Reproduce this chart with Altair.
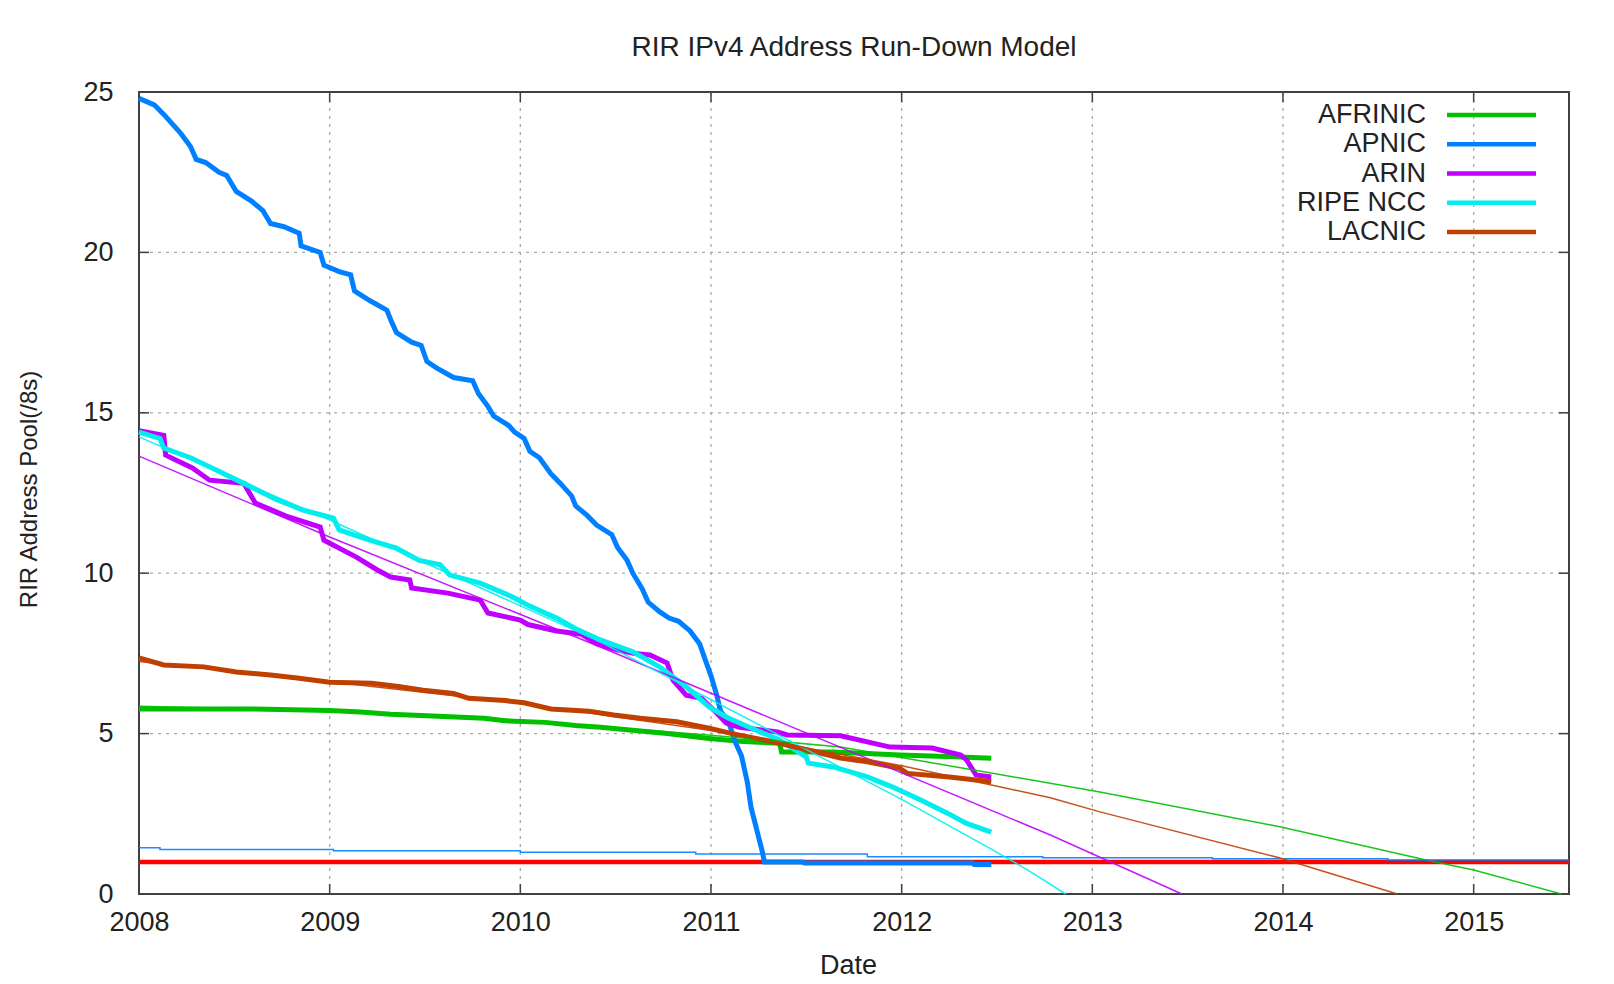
import altair as alt
import pandas as pd

# ---------------- data ----------------
SERIES = ["AFRINIC", "APNIC", "ARIN", "RIPE NCC", "LACNIC"]
COLORS = ["#00c000", "#0080ff", "#c000ff", "#00eeee", "#c04000"]

# Observed pools (thick lines)
afrinic_x = [2008.0, 2008.57, 2009.0, 2009.16, 2009.32, 2009.54, 2009.81, 2009.92, 2010.13, 2010.29,
             2010.42, 2010.77, 2010.99, 2011.17, 2011.36, 2011.37, 2011.64, 2011.99, 2012.31, 2012.47]
afrinic_y = [5.77, 5.77, 5.72, 5.67, 5.6, 5.55, 5.48, 5.4, 5.35, 5.25,
             5.2, 5.0, 4.85, 4.75, 4.7, 4.43, 4.43, 4.33, 4.27, 4.23]

apnic_x = [2008.0, 2008.08, 2008.13, 2008.22, 2008.27, 2008.30, 2008.35, 2008.42, 2008.46, 2008.51,
           2008.59, 2008.65, 2008.69, 2008.76, 2008.84, 2008.85, 2008.95, 2008.97, 2009.05, 2009.11,
           2009.13, 2009.21, 2009.30, 2009.32, 2009.35, 2009.43, 2009.48, 2009.51, 2009.56, 2009.65,
           2009.75, 2009.78, 2009.83, 2009.86, 2009.94, 2009.97, 2010.02, 2010.05, 2010.10, 2010.16,
           2010.21, 2010.27, 2010.29, 2010.35, 2010.40, 2010.48, 2010.51, 2010.56, 2010.59, 2010.64,
           2010.67, 2010.73, 2010.78, 2010.83, 2010.89, 2010.94, 2010.97, 2011.00, 2011.03, 2011.05,
           2011.09, 2011.13, 2011.16, 2011.19, 2011.21, 2011.24, 2011.27, 2011.28, 2011.48, 2011.49,
           2012.37, 2012.38, 2012.47]
apnic_y = [24.8, 24.6, 24.3, 23.7, 23.3, 22.9, 22.8, 22.5, 22.4, 21.9,
           21.6, 21.3, 20.9, 20.8, 20.6, 20.2, 20.0, 19.6, 19.4, 19.3,
           18.8, 18.5, 18.2, 17.9, 17.5, 17.2, 17.1, 16.6, 16.4, 16.1,
           16.0, 15.6, 15.2, 14.9, 14.6, 14.4, 14.2, 13.8, 13.6, 13.1,
           12.8, 12.4, 12.1, 11.8, 11.5, 11.2, 10.8, 10.4, 10.0, 9.5,
           9.1, 8.8, 8.6, 8.5, 8.2, 7.8, 7.3, 6.8, 6.2, 5.7,
           5.4, 4.7, 4.3, 3.5, 2.7, 2.0, 1.3, 1.0, 1.0, 0.97,
           0.97, 0.92, 0.92]

arin_x = [2008.0, 2008.13, 2008.14, 2008.28, 2008.37, 2008.55, 2008.61, 2008.78, 2008.95, 2008.97,
          2009.14, 2009.25, 2009.32, 2009.42, 2009.43, 2009.62, 2009.79, 2009.83, 2010.0, 2010.04,
          2010.19, 2010.32, 2010.40, 2010.51, 2010.60, 2010.68, 2010.77, 2010.80, 2010.87, 2010.95,
          2011.03, 2011.08, 2011.15, 2011.35, 2011.40, 2011.68, 2011.94, 2012.16, 2012.31, 2012.34,
          2012.39, 2012.47]
arin_y = [14.44, 14.3, 13.68, 13.28, 12.9, 12.8, 12.19, 11.76, 11.44, 11.03,
          10.5, 10.1, 9.88, 9.79, 9.54, 9.38, 9.16, 8.76, 8.54, 8.4,
          8.2, 8.1, 7.8, 7.6, 7.5, 7.45, 7.2, 6.67, 6.2, 6.1,
          5.64, 5.33, 5.2, 5.05, 4.96, 4.93, 4.58, 4.55, 4.33, 4.18,
          3.71, 3.65]

ripe_x = [2008.0, 2008.11, 2008.13, 2008.27, 2008.41, 2008.55, 2008.72, 2008.86, 2009.02, 2009.05,
          2009.21, 2009.35, 2009.47, 2009.58, 2009.63, 2009.79, 2009.96, 2010.04, 2010.19, 2010.29,
          2010.42, 2010.59, 2010.73, 2010.87, 2010.99, 2011.08, 2011.20, 2011.36, 2011.50, 2011.51,
          2011.64, 2011.82, 2011.95, 2012.10, 2012.24, 2012.34, 2012.47]
ripe_y = [14.4, 14.2, 13.9, 13.6, 13.2, 12.8, 12.3, 11.97, 11.72, 11.35,
          11.03, 10.78, 10.4, 10.26, 9.94, 9.69, 9.26, 9.0, 8.6, 8.27,
          7.92, 7.55, 7.08, 6.46, 5.83, 5.52, 5.2, 4.8, 4.27, 4.08,
          3.96, 3.65, 3.34, 2.93, 2.52, 2.2, 1.93]

lacnic_x = [2008.0, 2008.13, 2008.34, 2008.51, 2008.69, 2008.83, 2009.0, 2009.22, 2009.36, 2009.49,
            2009.65, 2009.73, 2009.92, 2010.02, 2010.16, 2010.36, 2010.49, 2010.63, 2010.82, 2010.99,
            2011.11, 2011.36, 2011.68, 2011.82, 2011.99, 2012.03, 2012.25, 2012.47]
lacnic_y = [7.36, 7.14, 7.08, 6.92, 6.83, 6.73, 6.6, 6.57, 6.47, 6.35,
            6.25, 6.1, 6.03, 5.96, 5.77, 5.7, 5.58, 5.48, 5.37, 5.17,
            5.0, 4.7, 4.24, 4.12, 3.92, 3.76, 3.65, 3.5]

# Model projections (thin lines)
afrinic_m_x = [2008.0, 2009.0, 2010.0, 2011.0, 2011.68, 2012.47, 2013.04, 2013.99, 2014.75, 2015.0, 2015.46]
afrinic_m_y = [5.85, 5.72, 5.42, 4.95, 4.58, 3.77, 3.18, 2.09, 1.06, 0.75, 0.0]

apnic_m_x = [2008.0, 2008.11, 2008.11, 2009.02, 2009.02, 2010.0, 2010.0, 2010.92, 2010.92, 2011.82,
             2011.82, 2012.74, 2012.74, 2013.63, 2013.63, 2014.55, 2014.55, 2015.5]
apnic_m_y = [1.44, 1.44, 1.39, 1.39, 1.35, 1.35, 1.30, 1.30, 1.25, 1.25,
             1.16, 1.16, 1.13, 1.13, 1.10, 1.10, 1.06, 1.06]

arin_m_x = [2008.0, 2009.0, 2010.42, 2012.78, 2013.47]
arin_m_y = [13.65, 11.13, 7.7, 1.84, 0.0]

ripe_m_x = [2008.0, 2009.0, 2010.42, 2012.0, 2012.47, 2012.66, 2012.86]
ripe_m_y = [14.25, 11.66, 7.86, 2.95, 1.4, 0.75, 0.0]

lacnic_m_x = [2008.0, 2009.0, 2010.0, 2011.0, 2012.0, 2012.47, 2012.78, 2013.04, 2013.98, 2014.6]
lacnic_m_y = [7.25, 6.62, 5.95, 5.1, 4.0, 3.4, 3.0, 2.56, 1.13, 0.0]

# Final /8 reserve level
reserve_x = [2008.0, 2015.5]
reserve_y = [1.0, 1.0]

x_ticks = [2008, 2009, 2010, 2011, 2012, 2013, 2014, 2015]
y_ticks = [0, 5, 10, 15, 20, 25]
x_grid = [2009, 2010, 2011, 2012, 2013, 2014, 2015]
y_grid = [5, 10, 15, 20]

# ---------------- tables ----------------
def long(pairs):
    rows = []
    for name, xs, ys in pairs:
        for i, (a, b) in enumerate(zip(xs, ys)):
            rows.append({"series": name, "x": a, "y": b, "idx": i})
    return pd.DataFrame(rows)

obs = long([("AFRINIC", afrinic_x, afrinic_y), ("APNIC", apnic_x, apnic_y),
            ("ARIN", arin_x, arin_y), ("RIPE NCC", ripe_x, ripe_y),
            ("LACNIC", lacnic_x, lacnic_y)])
mod = long([("AFRINIC", afrinic_m_x, afrinic_m_y), ("APNIC", apnic_m_x, apnic_m_y),
            ("ARIN", arin_m_x, arin_m_y), ("RIPE NCC", ripe_m_x, ripe_m_y),
            ("LACNIC", lacnic_m_x, lacnic_m_y)])
res = pd.DataFrame({"x": reserve_x, "y": reserve_y})
xg = pd.DataFrame({"x": x_grid})
yg = pd.DataFrame({"y": y_grid})
leg = pd.DataFrame({"series": SERIES})

W, H = 1430, 802
FONT = "Liberation Sans"

x_axis = alt.Axis(values=x_ticks, format="d", title="Date", labelPadding=15,
                  titleX=709, titleY=71, titleBaseline="middle", titleAlign="center")
y_axis = alt.Axis(values=y_ticks, title="RIR Address Pool(/8s)", labelPadding=26,
                  titleX=-110, titleY=397, titleAngle=-90, titleBaseline="middle",
                  titleAlign="center", titleFont=FONT, titleFontSize=24)
xs = alt.Scale(domain=[2008, 2015.5], nice=False, zero=False)
ys = alt.Scale(domain=[0, 25], nice=False)
cs = alt.Scale(domain=SERIES, range=COLORS)

X = alt.X("x:Q", scale=xs, axis=x_axis)
Y = alt.Y("y:Q", scale=ys, axis=y_axis)

grid_v = alt.Chart(xg).mark_rule(color="#a8a8a8", strokeWidth=1.3, strokeDash=[3, 5]).encode(x=X)
grid_h = alt.Chart(yg).mark_rule(color="#a8a8a8", strokeWidth=1.3, strokeDash=[3, 5]).encode(y=Y)

reserve = alt.Chart(res).mark_line(color="#ff0000", strokeWidth=4.5).encode(x=X, y=Y)

thick = alt.Chart(obs).mark_line(strokeWidth=5, strokeJoin="miter").encode(
    x=X, y=Y, color=alt.Color("series:N", scale=cs, legend=None), order="idx:Q")
thin = alt.Chart(mod).mark_line(strokeWidth=1.5, opacity=0.9).encode(
    x=X, y=Y, color=alt.Color("series:N", scale=cs, legend=None), order="idx:Q")

tick_col = "#404040"
tb = alt.Chart(xg).mark_rule(color=tick_col, strokeWidth=1.5).encode(x=X, y=alt.value(H), y2=alt.value(H - 10))
tt = alt.Chart(xg).mark_rule(color=tick_col, strokeWidth=1.5).encode(x=X, y=alt.value(0), y2=alt.value(10))
tl = alt.Chart(yg).mark_rule(color=tick_col, strokeWidth=1.5).encode(y=Y, x=alt.value(0), x2=alt.value(10))
tr = alt.Chart(yg).mark_rule(color=tick_col, strokeWidth=1.5).encode(y=Y, x=alt.value(W), x2=alt.value(W - 10))

main = alt.layer(grid_v, grid_h, tb, tt, tl, tr, reserve, thick, thin)

LY = alt.Y("series:N", scale=alt.Scale(type="point", domain=SERIES, range=[23, 140], padding=0), axis=None)
leg_text = alt.Chart(leg).mark_text(align="right", baseline="middle", font=FONT, fontSize=27,
                                    color="#222222").encode(
    y=LY, x=alt.value(1287), text="series:N")
leg_line = alt.Chart(leg).mark_rule(strokeWidth=4.5).encode(
    y=LY, x=alt.value(1308), x2=alt.value(1397),
    color=alt.Color("series:N", scale=cs, legend=None))
legend = alt.layer(leg_text, leg_line)

chart = alt.layer(main, legend).resolve_scale(y="independent").properties(
    width=W, height=H,
    padding={"left": 131, "top": 84, "right": 37, "bottom": 90},
    autosize=alt.AutoSizeParams(type="none"),
    title=alt.TitleParams("RIR IPv4 Address Run-Down Model", font=FONT, fontSize=28,
                          fontWeight="normal", color="#222222", anchor="middle",
                          frame="group", baseline="alphabetic", offset=-6),
    background="white",
).configure_view(stroke="#404040", strokeWidth=2).configure_axis(
    grid=False, ticks=False, tickSize=0, domain=False,
    labelFont=FONT, labelFontSize=27, labelColor="#222222",
    titleFont=FONT, titleFontSize=27, titleColor="#222222", titleFontWeight="normal",
    labelOverlap=False, labelFlush=False,
)

chart.save("out.html", embed_options={"renderer": "svg", "actions": False})
